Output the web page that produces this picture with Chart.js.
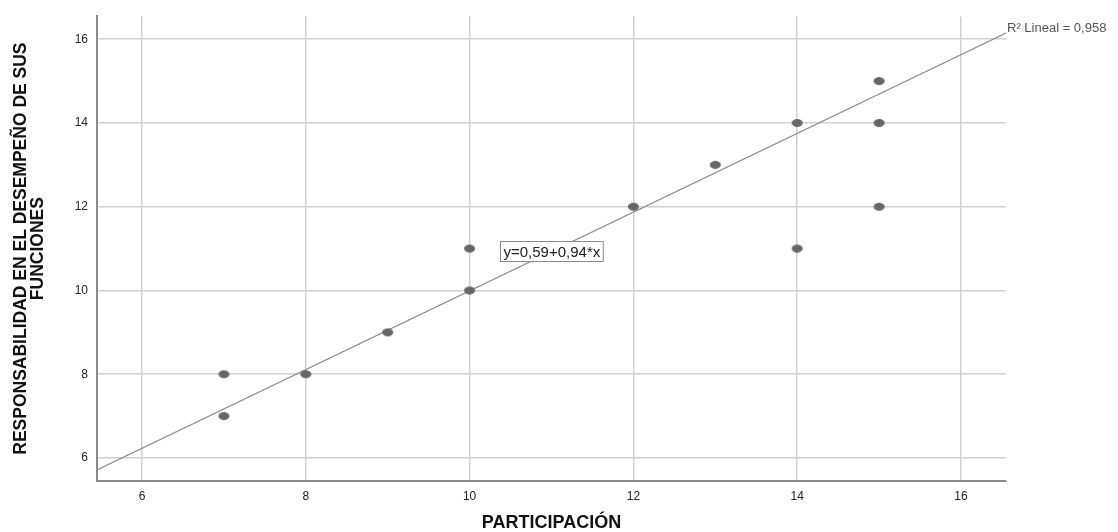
<!DOCTYPE html>
<html><head><meta charset="utf-8">
<script src="https://cdn.jsdelivr.net/npm/chart.js@4"></script>
<style>html,body{margin:0;padding:0;background:#fff;} #wrap{width:1118px;height:532px;position:relative;}</style>
</head><body><div id="wrap"><canvas id="c" width="1118" height="532"></canvas></div>
<script>
// ---- data ----
const participacion   = [7, 7, 8, 9, 10, 10, 12, 13, 14, 14, 15, 15, 15];
const responsabilidad = [8, 7, 8, 9, 11, 10, 12, 13, 14, 11, 15, 14, 12];
const xTicks = [6, 8, 10, 12, 14, 16];
const yTicks = [6, 8, 10, 12, 14, 16];
const axisMin = 5.45, axisMax = 16.55;
const fitIntercept = 0.59, fitSlope = 0.94;
const fitLabel = 'y=0,59+0,94*x';
const r2Label = 'R² Lineal = 0,958';
const xTitle = 'PARTICIPACIÓN';
const yTitle = ['RESPONSABILIDAD EN EL DESEMPEÑO DE SUS', 'FUNCIONES'];

const FONT = '"Liberation Sans", Arial, sans-serif';

function ellipse(w, h, color) {
  const c = document.createElement('canvas');
  c.width = w + 2; c.height = h + 2;
  const g = c.getContext('2d');
  g.fillStyle = color;
  g.beginPath();
  g.ellipse((w + 2) / 2, (h + 2) / 2, w / 2, h / 2, 0, 0, Math.PI * 2);
  g.fill();
  return c;
}
const marker = ellipse(11, 8, '#666666');

const points = participacion.map((v, i) => ({ x: v, y: responsabilidad[i] }));
const fitPoints = [axisMin, axisMax].map(v => ({ x: v, y: fitIntercept + fitSlope * v }));

const overlay = {
  id: 'overlay',
  afterDatasetsDraw(chart) {
    const { ctx, scales: { x, y } } = chart;
    ctx.save();
    // R² label at end of fit line
    const ex = x.getPixelForValue(axisMax);
    const ey = y.getPixelForValue(fitIntercept + fitSlope * axisMax);
    ctx.font = '13px ' + FONT;
    ctx.fillStyle = '#555';
    ctx.textAlign = 'left';
    ctx.textBaseline = 'middle';
    ctx.fillText(r2Label, ex + 1, ey - 5);
    // equation box
    const bx = x.getPixelForValue(11.0), by = y.getPixelForValue(10.95);
    ctx.font = '15px ' + FONT;
    const w = ctx.measureText(fitLabel).width + 6, h = 20;
    const left = Math.round(bx - w / 2) + 0.5, top = Math.round(by - h / 2) + 0.5;
    ctx.fillStyle = '#fff';
    ctx.fillRect(left, top, w, h);
    ctx.strokeStyle = '#8a8a8a';
    ctx.lineWidth = 1;
    ctx.strokeRect(left, top, w, h);
    ctx.fillStyle = '#222';
    ctx.textAlign = 'center';
    ctx.fillText(fitLabel, left + w / 2, top + h / 2 + 1);
    ctx.restore();
  }
};

new Chart(document.getElementById('c'), {
  data: {
    datasets: [
      { type: 'scatter', data: points, pointStyle: marker, pointRadius: 5, pointHoverRadius: 5,
        backgroundColor: '#666666', borderColor: '#666666', order: 0 },
      { type: 'line', data: fitPoints, borderColor: '#8f8f8f', borderWidth: 1.2, pointRadius: 0,
        fill: false, tension: 0, order: 1 }
    ]
  },
  options: {
    responsive: false,
    animation: false,
    layout: { padding: { left: 0, top: 15, right: 112, bottom: 0 } },
    plugins: { legend: { display: false }, tooltip: { enabled: false } },
    scales: {
      x: {
        type: 'linear', min: axisMin, max: axisMax,
        afterBuildTicks: s => { s.ticks = xTicks.map(v => ({ value: v })); },
        afterFit: s => { s.height = 51; },
        grid: { color: '#d0d0d0', lineWidth: 1.5, drawTicks: false },
        border: { display: true, color: '#8a8a8a', width: 2 },
        ticks: { padding: 8, color: '#222', font: { family: FONT, size: 12 }, callback: v => String(v), maxRotation: 0 },
        title: { display: true, text: xTitle, color: '#111', font: { family: FONT, size: 18, weight: 'bold', lineHeight: 1.0 },
                 padding: { top: 0, bottom: 0 } }
      },
      y: {
        type: 'linear', min: axisMin, max: axisMax,
        afterBuildTicks: s => { s.ticks = yTicks.map(v => ({ value: v })); },
        afterFit: s => { s.width = 97; },
        grid: { color: '#d0d0d0', lineWidth: 1.5, drawTicks: false },
        border: { display: true, color: '#8a8a8a', width: 2 },
        ticks: { padding: 9, color: '#222', font: { family: FONT, size: 12 }, callback: v => String(v) },
        title: { display: true, text: yTitle, color: '#111', font: { family: FONT, size: 17.5, weight: 'bold', lineHeight: 1.0 },
                 padding: { top: 12, bottom: 0 } }
      }
    }
  },
  plugins: [overlay]
});
</script>
</body></html>
